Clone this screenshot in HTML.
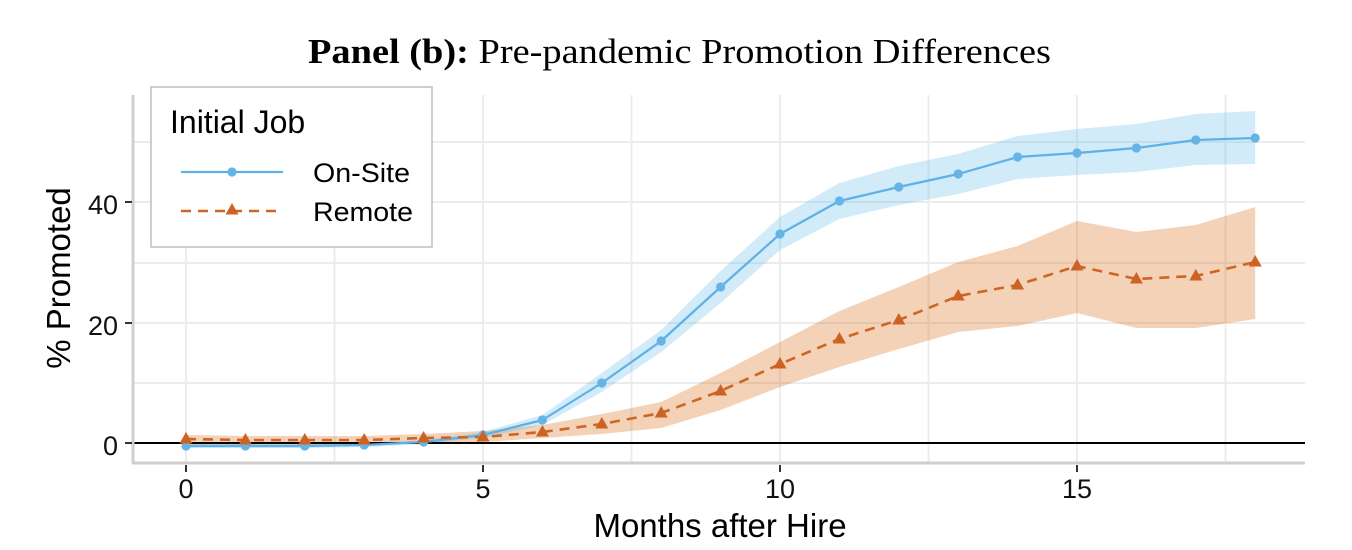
<!DOCTYPE html>
<html>
<head>
<meta charset="utf-8">
<style>
html,body{margin:0;padding:0;background:#fff;}
svg{display:block;}
</style>
</head>
<body>
<svg width="1352" height="550" viewBox="0 0 1352 550" xmlns="http://www.w3.org/2000/svg">
<rect x="0" y="0" width="1352" height="550" fill="#fff"/>
<!-- Title -->
<text x="308" y="63" font-family="Liberation Serif, serif" font-size="35" fill="#000" textLength="743" lengthAdjust="spacingAndGlyphs"><tspan font-weight="bold">Panel (b):</tspan> Pre-pandemic Promotion Differences</text>

<!-- grid -->
<g stroke="#ececec" stroke-width="2" fill="none">
<line x1="133" y1="142" x2="1305" y2="142"/>
<line x1="133" y1="202" x2="1305" y2="202"/>
<line x1="133" y1="263" x2="1305" y2="263"/>
<line x1="133" y1="323" x2="1305" y2="323"/>
<line x1="133" y1="383" x2="1305" y2="383"/>
<line x1="186" y1="95" x2="186" y2="462"/>
<line x1="334.5" y1="95" x2="334.5" y2="462"/>
<line x1="483" y1="95" x2="483" y2="462"/>
<line x1="631.5" y1="95" x2="631.5" y2="462"/>
<line x1="780" y1="95" x2="780" y2="462"/>
<line x1="928.5" y1="95" x2="928.5" y2="462"/>
<line x1="1077" y1="95" x2="1077" y2="462"/>
<line x1="1225.5" y1="95" x2="1225.5" y2="462"/>
</g>

<!-- bands -->
<polygon fill="#D55E00" fill-opacity="0.28" points="186,435 245.4,436 304.8,436 364.2,436 423.6,434 483,431 542.4,425 601.8,414 661.2,402 720.6,373 780,342 839.4,311 898.8,287 958.2,262 1017.6,246 1077,221 1136.4,232 1195.8,225 1255.2,207 1255.2,319 1195.8,328 1136.4,328 1077,313 1017.6,326 958.2,332 898.8,349 839.4,367 780,387 720.6,410 661.2,428 601.8,434 542.4,438 483,442 423.6,443 364.2,445 304.8,445 245.4,445 186,445"/>
<polygon fill="#56B4E9" fill-opacity="0.27" points="186,444 245.4,444 304.8,444 364.2,443 423.6,440 483,432 542.4,415 601.8,373 661.2,330 720.6,271 780,217 839.4,183 898.8,166 958.2,154 1017.6,136 1077,129 1136.4,124 1195.8,114 1255.2,111 1255.2,164 1195.8,165 1136.4,172 1077,175 1017.6,179 958.2,194 898.8,205 839.4,219 780,250 720.6,303 661.2,352 601.8,392 542.4,425 483,438 423.6,444 364.2,447 304.8,448 245.4,448 186,448"/>

<!-- zero line -->
<line x1="133" y1="443" x2="1305" y2="443" stroke="#000" stroke-width="2"/>

<!-- axis lines -->
<line x1="133" y1="95" x2="133" y2="464" stroke="#cfcfcf" stroke-width="3"/>
<line x1="132" y1="463" x2="1305" y2="463" stroke="#cfcfcf" stroke-width="3"/>

<!-- ticks -->
<g stroke="#333" stroke-width="2">
<line x1="125" y1="443" x2="132" y2="443"/>
<line x1="125" y1="323" x2="132" y2="323"/>
<line x1="125" y1="202" x2="132" y2="202"/>
<line x1="186" y1="465" x2="186" y2="472"/>
<line x1="483" y1="465" x2="483" y2="472"/>
<line x1="780" y1="465" x2="780" y2="472"/>
<line x1="1077" y1="465" x2="1077" y2="472"/>
</g>

<!-- tick labels -->
<g font-family="Liberation Sans, sans-serif" font-size="27" fill="#111">
<text x="118" y="455" text-anchor="end">0</text>
<text x="118" y="335" text-anchor="end">20</text>
<text x="118" y="214" text-anchor="end">40</text>
<text x="186" y="498" text-anchor="middle">0</text>
<text x="483" y="498" text-anchor="middle">5</text>
<text x="780" y="498" text-anchor="middle">10</text>
<text x="1077" y="498" text-anchor="middle">15</text>
</g>

<!-- axis titles -->
<text x="720" y="537" font-family="Liberation Sans, sans-serif" font-size="33" fill="#000" text-anchor="middle">Months after Hire</text>
<text transform="translate(70,278) rotate(-90)" font-family="Liberation Sans, sans-serif" font-size="33" fill="#000" text-anchor="middle">% Promoted</text>

<!-- series lines -->
<polyline fill="none" stroke="#5fb0e6" stroke-width="2.2" stroke-linejoin="round" points="186,446 245.4,446 304.8,446 364.2,445 423.6,442 483,435 542.4,420 601.8,383 661.2,341 720.6,287 780,234 839.4,201 898.8,187 958.2,174 1017.6,157 1077,153 1136.4,148 1195.8,140 1255.2,138"/>
<polyline fill="none" stroke="#cf6424" stroke-width="2.6" stroke-dasharray="10 7" stroke-linejoin="round" points="186,439 245.4,440 304.8,440 364.2,440 423.6,438 483,437 542.4,432 601.8,424 661.2,413 720.6,391 780,364 839.4,339 898.8,320 958.2,296 1017.6,285 1077,266 1136.4,279 1195.8,276 1255.2,262"/>

<!-- points -->
<g fill="#66b3e6">
<circle cx="186" cy="446" r="4.6"/>
<circle cx="245.4" cy="446" r="4.6"/>
<circle cx="304.8" cy="446" r="4.6"/>
<circle cx="364.2" cy="445" r="4.6"/>
<circle cx="423.6" cy="442" r="4.6"/>
<circle cx="483" cy="435" r="4.6"/>
<circle cx="542.4" cy="420" r="4.6"/>
<circle cx="601.8" cy="383" r="4.6"/>
<circle cx="661.2" cy="341" r="4.6"/>
<circle cx="720.6" cy="287" r="4.6"/>
<circle cx="780" cy="234" r="4.6"/>
<circle cx="839.4" cy="201" r="4.6"/>
<circle cx="898.8" cy="187" r="4.6"/>
<circle cx="958.2" cy="174" r="4.6"/>
<circle cx="1017.6" cy="157" r="4.6"/>
<circle cx="1077" cy="153" r="4.6"/>
<circle cx="1136.4" cy="148" r="4.6"/>
<circle cx="1195.8" cy="140" r="4.6"/>
<circle cx="1255.2" cy="138" r="4.6"/>
</g>
<g fill="#cc6325">
<path d="M0,-7L6.5,4.5L-6.5,4.5Z" transform="translate(186,439)"/>
<path d="M0,-7L6.5,4.5L-6.5,4.5Z" transform="translate(245.4,440)"/>
<path d="M0,-7L6.5,4.5L-6.5,4.5Z" transform="translate(304.8,440)"/>
<path d="M0,-7L6.5,4.5L-6.5,4.5Z" transform="translate(364.2,440)"/>
<path d="M0,-7L6.5,4.5L-6.5,4.5Z" transform="translate(423.6,438)"/>
<path d="M0,-7L6.5,4.5L-6.5,4.5Z" transform="translate(483,437)"/>
<path d="M0,-7L6.5,4.5L-6.5,4.5Z" transform="translate(542.4,432)"/>
<path d="M0,-7L6.5,4.5L-6.5,4.5Z" transform="translate(601.8,424)"/>
<path d="M0,-7L6.5,4.5L-6.5,4.5Z" transform="translate(661.2,413)"/>
<path d="M0,-7L6.5,4.5L-6.5,4.5Z" transform="translate(720.6,391)"/>
<path d="M0,-7L6.5,4.5L-6.5,4.5Z" transform="translate(780,364)"/>
<path d="M0,-7L6.5,4.5L-6.5,4.5Z" transform="translate(839.4,339)"/>
<path d="M0,-7L6.5,4.5L-6.5,4.5Z" transform="translate(898.8,320)"/>
<path d="M0,-7L6.5,4.5L-6.5,4.5Z" transform="translate(958.2,296)"/>
<path d="M0,-7L6.5,4.5L-6.5,4.5Z" transform="translate(1017.6,285)"/>
<path d="M0,-7L6.5,4.5L-6.5,4.5Z" transform="translate(1077,266)"/>
<path d="M0,-7L6.5,4.5L-6.5,4.5Z" transform="translate(1136.4,279)"/>
<path d="M0,-7L6.5,4.5L-6.5,4.5Z" transform="translate(1195.8,276)"/>
<path d="M0,-7L6.5,4.5L-6.5,4.5Z" transform="translate(1255.2,262)"/>
</g>

<!-- legend -->
<rect x="151" y="87" width="281" height="160" fill="#fff" stroke="#bdbdbd" stroke-width="1.5"/>
<text x="170" y="133" font-family="Liberation Sans, sans-serif" font-size="32" fill="#000">Initial Job</text>
<line x1="181" y1="172" x2="283" y2="172" stroke="#5fb0e6" stroke-width="2.2"/>
<circle cx="232" cy="172" r="4.6" fill="#66b3e6"/>
<line x1="181" y1="211" x2="283" y2="211" stroke="#cf6424" stroke-width="2.6" stroke-dasharray="10 7"/>
<path d="M0,-7L6.5,4.5L-6.5,4.5Z" transform="translate(232,210)" fill="#cc6325"/>
<text x="313" y="182" font-family="Liberation Sans, sans-serif" font-size="27" fill="#000" textLength="97" lengthAdjust="spacingAndGlyphs">On-Site</text>
<text x="313" y="221" font-family="Liberation Sans, sans-serif" font-size="27" fill="#000" textLength="100" lengthAdjust="spacingAndGlyphs">Remote</text>
</svg>
</body>
</html>
